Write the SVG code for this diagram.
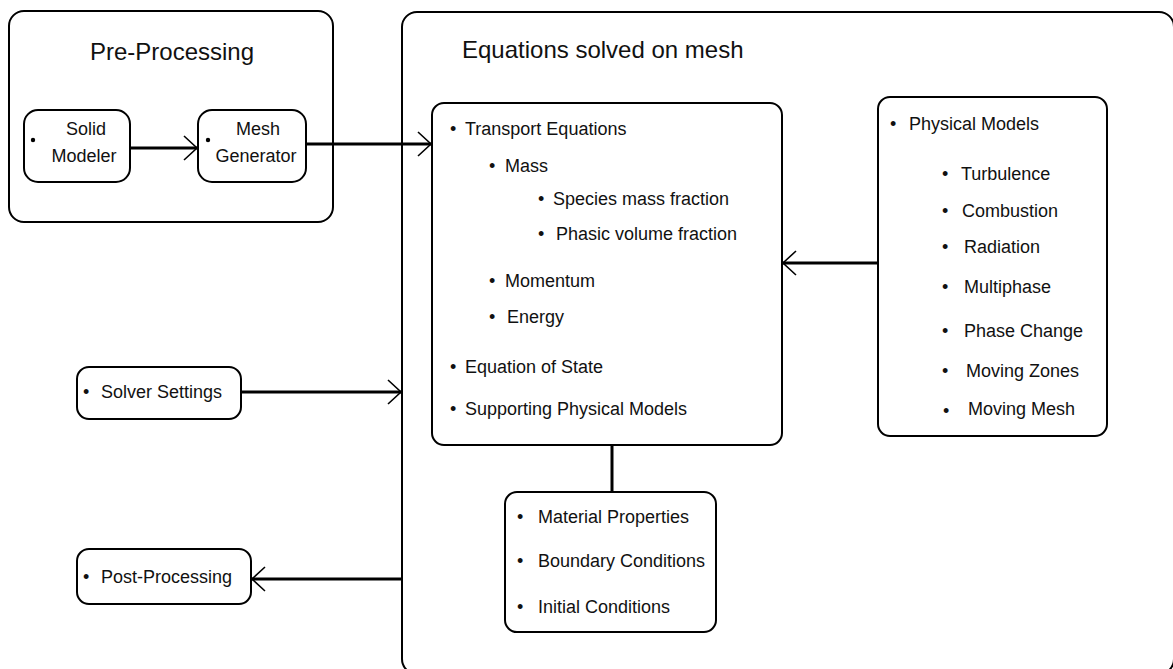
<svg xmlns="http://www.w3.org/2000/svg" width="1173" height="669" viewBox="0 0 1173 669">
<defs>
<marker id="arr" markerUnits="userSpaceOnUse" markerWidth="16" markerHeight="28" refX="14" refY="14" orient="auto" viewBox="0 0 16 28">
<path d="M1,2 L14,14 L1,26" fill="none" stroke="#000" stroke-width="1.6"/>
</marker>
</defs>
<style>
.box{fill:#fff;stroke:#000;stroke-width:2}
.t{font-family:"Liberation Sans",Arial,sans-serif;font-size:18px;fill:#111}
.h{font-family:"Liberation Sans",Arial,sans-serif;font-size:24px;fill:#111}
.c{text-anchor:middle}
.con{fill:none;stroke:#000;stroke-width:3}
</style>
<g id="equations-mesh">
<rect class="box" x="402" y="12" width="772" height="662" rx="15"/>
<text class="h" x="462" y="58">Equations solved on mesh</text>
</g>
<g id="pre-processing">
<rect class="box" x="9" y="11" width="324" height="211" rx="15"/>
<text class="h" x="90" y="60">Pre-Processing</text>
</g>
<g id="solid-modeler">
<rect class="box" x="24" y="110" width="106" height="72" rx="14"/>
<circle cx="33" cy="140" r="2.2"/>
<text class="t c" x="86" y="135">Solid</text>
<text class="t c" x="84" y="162">Modeler</text>
</g>
<g id="mesh-generator">
<rect class="box" x="198" y="110" width="108" height="72" rx="14"/>
<circle cx="208" cy="140" r="2.2"/>
<text class="t c" x="258" y="135">Mesh</text>
<text class="t c" x="256" y="162">Generator</text>
</g>
<g id="transport">
<rect class="box" x="432" y="103" width="350" height="342" rx="12"/>
<g class="t">
<text x="450" y="135">•</text><text x="465" y="135">Transport Equations</text>
<text x="489" y="172">•</text><text x="505" y="172">Mass</text>
<text x="538" y="205">•</text><text x="553" y="205">Species mass fraction</text>
<text x="538" y="240">•</text><text x="556" y="240">Phasic volume fraction</text>
<text x="489" y="287">•</text><text x="505" y="287">Momentum</text>
<text x="489" y="323">•</text><text x="507" y="323">Energy</text>
<text x="450" y="373">•</text><text x="465" y="373">Equation of State</text>
<text x="450" y="415">•</text><text x="465" y="415">Supporting Physical Models</text>
</g>
</g>
<g id="physical-models">
<rect class="box" x="878" y="97" width="229" height="339" rx="12"/>
<g class="t">
<text x="890" y="130">•</text><text x="909" y="130">Physical Models</text>
<text x="942" y="180">•</text><text x="961" y="180">Turbulence</text>
<text x="942" y="217">•</text><text x="962" y="217">Combustion</text>
<text x="942" y="253">•</text><text x="964" y="253">Radiation</text>
<text x="942" y="293">•</text><text x="964" y="293">Multiphase</text>
<text x="942" y="337">•</text><text x="964" y="337">Phase Change</text>
<text x="942" y="377">•</text><text x="966" y="377">Moving Zones</text>
<text x="943" y="417">•</text><text x="968" y="415">Moving Mesh</text>
</g>
</g>
<g id="solver-settings">
<rect class="box" x="77" y="367" width="164" height="52" rx="12"/>
<text class="t" x="83" y="398">•</text><text class="t" x="101" y="398">Solver Settings</text>
</g>
<g id="post-processing">
<rect class="box" x="77" y="549" width="174" height="55" rx="12"/>
<text class="t" x="83" y="583">•</text><text class="t" x="101" y="583">Post-Processing</text>
</g>
<g id="material">
<rect class="box" x="505" y="492" width="211" height="140" rx="12"/>
<g class="t">
<text x="517" y="523">•</text><text x="538" y="523">Material Properties</text>
<text x="517" y="567">•</text><text x="538" y="567">Boundary Conditions</text>
<text x="517" y="613">•</text><text x="538" y="613">Initial Conditions</text>
</g>
</g>
<g id="connectors">
<line class="con" x1="130" y1="148" x2="197" y2="148" marker-end="url(#arr)"/>
<line class="con" x1="306" y1="144" x2="431" y2="144" marker-end="url(#arr)"/>
<line class="con" x1="878" y1="263" x2="783" y2="263" marker-end="url(#arr)"/>
<line class="con" x1="241" y1="392" x2="401" y2="392" marker-end="url(#arr)"/>
<line class="con" x1="402" y1="579" x2="252" y2="579" marker-end="url(#arr)"/>
<line class="con" x1="612" y1="445" x2="612" y2="492"/>
</g>
</svg>
